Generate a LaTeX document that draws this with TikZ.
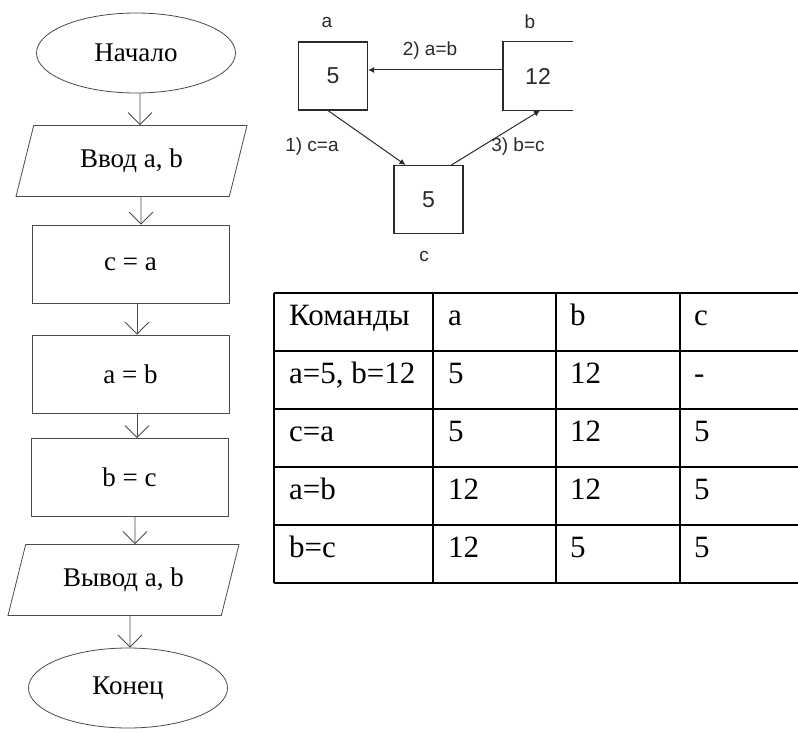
\documentclass[tikz,border=0pt]{standalone}
\usepackage{fontspec}
\setmainfont{Liberation Serif}
\newfontfamily\swapfont{Liberation Sans}
\usetikzlibrary{positioning,arrows.meta,shapes.geometric}
\definecolor{flowgray}{HTML}{4A4A4A}
\definecolor{swapgray}{HTML}{2A2A2A}

\tikzset{
  flow/.style={draw=flowgray, line width=0.8pt,
    -{Straight Barb[length=12pt,width=24pt,line width=0.8pt]}},
  flowfont/.style={font=\fontsize{27}{32}\selectfont},
  term/.style={ellipse, draw=flowgray, line width=0.8pt, inner sep=0pt,
    minimum width=199pt, minimum height=80pt, flowfont},
  proc/.style={rectangle, draw=flowgray, line width=0.8pt,
    minimum width=197pt, minimum height=78pt, flowfont},
  io/.style={trapezium, trapezium left angle=60, trapezium right angle=120,
    trapezium stretches body, draw=flowgray, line width=0.8pt,
    minimum width=231pt, minimum height=71pt, flowfont},
  cellbox/.style={rectangle, draw=swapgray, line width=1.1pt,
    minimum width=69pt, minimum height=68pt, text=swapgray,
    font=\swapfont\fontsize{23}{27}\selectfont},
  swaplbl/.style={text=swapgray, inner sep=1pt,
    font=\swapfont\fontsize{19}{23}\selectfont},
  swap/.style={draw=swapgray, line width=1pt, -{Latex[length=6pt,width=6pt]}},
  tabline/.style={line width=2pt},
  tabtext/.style={anchor=base west, inner sep=0pt, font=\fontsize{31}{36}\selectfont},
}

\begin{document}
\begin{tikzpicture}[x=1pt, y=-1pt]
  \useasboundingbox (0,0) rectangle (798,733);

  % Flowchart
  \node[term] (start) at (136,53) {Начало};
  \node[io]   (in)    at (131.5,161) {Ввод a, b};
  \node[proc] (ca)    at (130.5,264) {c = a};
  \node[proc] (ab)    at (130.5,374) {a = b};
  \node[proc] (bc)    at (129.5,477.5) {b = c};
  \node[io]   (out)   at (123.5,580) {Вывод a, b};
  \node[term] (stop)  at (128,688) {Конец};

  \draw[flow] ([xshift=4pt]start.south) -- ([xshift=8.5pt]in.north);
  \draw[flow] ([xshift=9.5pt]in.south) -- ([xshift=10.5pt]ca.north);
  \draw[flow] ([xshift=6.5pt]ca.south) -- ([xshift=6.5pt]ab.north);
  \draw[flow] ([xshift=6.5pt]ab.south) -- ([xshift=7.5pt]bc.north);
  \draw[flow] ([xshift=5.5pt]bc.south) -- ([xshift=11.5pt]out.north);
  \draw[flow] ([xshift=6.5pt]out.south) -- ([xshift=2pt]stop.north);

  % Swap of a and b through c
  \node[cellbox] (boxa) at (333,76) {5};
  \node[cellbox, draw=none] (boxb) at (538,76) {12};
  \node[cellbox] (boxc) at (428.5,199.5) {5};
  \draw[draw=swapgray, line width=1.1pt] (boxb.north east) -- (boxb.north west)
    -- (boxb.south west) -- (boxb.south east);

  \node[swaplbl] (namea) at (327,22) {a};
  \node[swaplbl] (nameb) at (530,22) {b};
  \node[swaplbl] (namec) at (424,256) {c};

  \draw[swap] ([xshift=-5pt]boxa.south) -- ([xshift=-23pt]boxc.north);
  \draw[swap] ([yshift=6pt]boxb.west) -- ([yshift=6pt]boxa.east);
  \draw[swap] ([xshift=23pt]boxc.north) -- ([xshift=2pt]boxb.south);

  \node[swaplbl] (step1) at (312,147) {1) c=a};
  \node[swaplbl] (step2) at (430,51) {2) a=b};
  \node[swaplbl] (step3) at (518,147) {3) b=c};

  % Table of values
  \foreach \y in {293,351,409,467,525,583}
    \draw[tabline] (274,\y) -- (798,\y);
  \foreach \x in {274,433,556,680}
    \draw[tabline] (\x,293) -- (\x,583);

  \foreach \cmd/\va/\vb/\vc [count=\i from 0] in
    {Команды/a/b/c, {a=5, b=12}/5/12/-, c=a/5/12/5, a=b/12/12/5, b=c/12/5/5} {
    \node[tabtext] (cmd\i) at (289,{325+58*\i}) {\cmd};
    \node[tabtext] (vala\i) at (448,{325+58*\i}) {\va};
    \node[tabtext] (valb\i) at (570,{325+58*\i}) {\vb};
    \node[tabtext] (valc\i) at (694,{325+58*\i}) {\vc};
  }
\end{tikzpicture}
\end{document}
